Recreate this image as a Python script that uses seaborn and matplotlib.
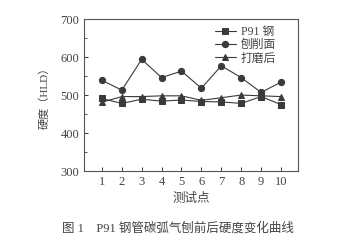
import matplotlib
matplotlib.use("Agg")
import matplotlib.pyplot as plt
import seaborn as sns
import pandas as pd
from matplotlib.ticker import MultipleLocator

points = [1, 2, 3, 4, 5, 6, 7, 8, 9, 10]
p91 = [491, 478, 489, 484, 487, 483, 482, 478, 496, 475]
planed = [539, 513, 594, 546, 563, 518, 577, 546, 507, 534]
ground = [481, 496, 496, 498, 498, 486, 493, 500, 498, 496]
series_names = ["P91 钢", "刨削面", "打磨后"]
xticks = [1, 2, 3, 4, 5, 6, 7, 8, 9, 10]
yticks = [300, 400, 500, 600, 700]

df = pd.concat([
    pd.DataFrame({"x": points, "y": vals, "s": name})
    for name, vals in zip(series_names, [p91, planed, ground])
])

sns.set_style("white")
plt.rcParams['font.family'] = ['Liberation Serif', 'Noto Sans CJK SC']
ink = "#3a3a3a"

fig = plt.figure(figsize=(3.42, 2.45), dpi=100)
ax = fig.add_axes([0.2456, 0.302, 0.6254, 0.620])

sns.lineplot(data=df, x="x", y="y", hue="s", style="s",
             palette=[ink, ink, ink], markers=["s", "o", "^"], dashes=False,
             markersize=4.5, linewidth=0.8, markeredgecolor=ink, ax=ax)

ax.set_xlim(0.1, 10.85)
ax.set_ylim(300, 700)
ax.set_xticks(xticks)
ax.set_yticks(yticks)
ax.yaxis.set_minor_locator(MultipleLocator(50))
ax.tick_params(axis="both", which="both", direction="in", colors=ink,
               labelsize=9, labelcolor="#444444", top=False, right=False)
ax.tick_params(axis="both", which="major", length=3, width=0.7, bottom=True, left=True)
ax.tick_params(axis="y", which="minor", length=2, width=0.6, left=True)
for sp in ax.spines.values():
    sp.set_color("#555555")
    sp.set_linewidth(0.8)

ax.set_xlabel("测试点", fontsize=9, color="#444444", labelpad=4)
ax.set_ylabel("硬度（HLD）", fontsize=8, color="#444444", labelpad=8)

leg = ax.legend(loc="upper right", frameon=False, fontsize=8.5,
                handlelength=1.8, handletextpad=0.4, labelspacing=0.1,
                borderaxespad=0.2, bbox_to_anchor=(0.93, 1.0),
                labelcolor="#444444")

fig.text(0.52, 0.055, "图 1    P91 钢管碳弧气刨前后硬度变化曲线", ha="center",
         fontsize=9, color="#444444")

fig.savefig("out.png", dpi=100, facecolor="white")
